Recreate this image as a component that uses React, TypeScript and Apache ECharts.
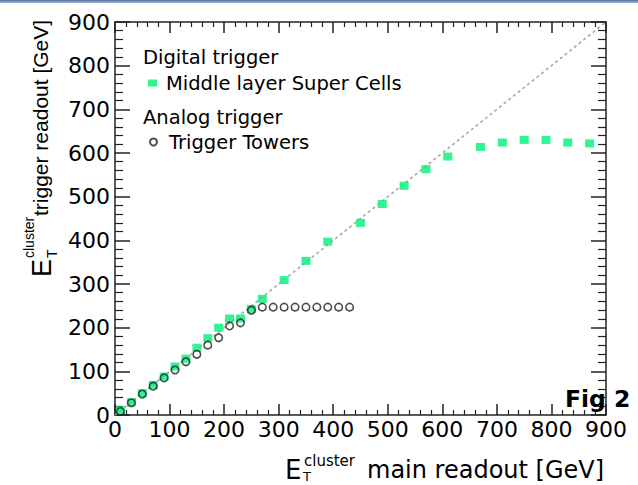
import React, { useEffect, useRef } from "react";
import * as echarts from "echarts";

// Digital trigger: Middle layer Super Cells
const superCellX = [10, 30, 50, 70, 90, 110, 130, 150, 170, 190, 210, 230, 250, 270, 310, 350, 390, 450, 490, 530, 570, 610, 670, 710, 750, 790, 830, 870];
const superCellY = [11, 29, 50, 69, 88, 111, 129, 154, 176, 200, 221, 221, 243, 266, 309, 353, 397, 440, 483, 525, 563, 592, 614, 624, 630, 630, 624, 622];

// Analog trigger: Trigger Towers
const towerX = [10, 30, 50, 70, 90, 110, 130, 150, 170, 190, 210, 230, 250, 270, 290, 310, 330, 350, 370, 390, 410, 430];
const towerY = [8, 28, 48, 66, 85, 103, 122, 139, 160, 177, 204, 211, 240, 247, 247, 247, 247, 247, 247, 247, 247, 247];

// Diagonal reference y = x
const diagX = [0, 900];

const axisTicks = [0, 100, 200, 300, 400, 500, 600, 700, 800, 900];

const SERIES_SC = "Middle layer Super Cells";
const SERIES_TT = "Trigger Towers";

export default function App() {
  const ref = useRef<HTMLDivElement>(null);

  useEffect(() => {
    if (!ref.current) return;
    const chart = echarts.init(ref.current, undefined, { renderer: "svg" });

    const axisColor = "#222";
    const lineStyle = { color: axisColor, width: 1.5 };
    const minV = axisTicks[0];
    const maxV = axisTicks[axisTicks.length - 1];
    const interval = axisTicks[1] - axisTicks[0];

    const mkX = (position: "bottom" | "top", showLabel: boolean) => ({
      type: "value",
      position,
      min: minV,
      max: maxV,
      interval,
      axisLine: { show: true, onZero: false, lineStyle },
      axisTick: { show: true, inside: true, length: 11, lineStyle },
      minorTick: { show: true, splitNumber: 5, length: 5, lineStyle: { color: axisColor, width: 1.2 } },
      splitLine: { show: false },
      axisLabel: {
        show: showLabel,
        fontFamily: "DejaVu Sans",
        fontSize: 22,
        color: "#000",
        margin: 3,
      },
    });
    const mkY = (position: "left" | "right", showLabel: boolean) => ({
      type: "value",
      position,
      min: minV,
      max: maxV,
      interval,
      axisLine: { show: true, onZero: false, lineStyle },
      axisTick: { show: true, inside: true, length: 15, lineStyle },
      minorTick: { show: true, splitNumber: 5, length: 8, lineStyle: { color: axisColor, width: 1.2 } },
      splitLine: { show: false },
      axisLabel: {
        show: showLabel,
        fontFamily: "DejaVu Sans",
        fontSize: 22,
        color: "#000",
        margin: 5,
      },
    });

    const t = (text: string, x: number, y: number, fontSize: number, family: string, weight = "normal") => ({
      type: "text",
      x,
      y,
      z: 100,
      style: {
        text,
        fontSize,
        fontFamily: family,
        fontWeight: weight,
        fill: "#000",
        textAlign: "left",
        textVerticalAlign: "middle",
      },
    });

    const option: any = {
      animation: false,
      backgroundColor: "#fff",
      grid: { left: 115, right: 32, top: 22, bottom: 70, containLabel: false },
      xAxis: [mkX("bottom", true), mkX("top", false)],
      yAxis: [mkY("left", true), mkY("right", false)],
      legend: [
        {
          data: [SERIES_SC],
          left: 148,
          top: 73,
          padding: 0,
          itemWidth: 9,
          itemHeight: 7,
          icon: "rect",
          textStyle: { fontFamily: "DejaVu Sans", fontSize: 19.5, color: "#000", padding: [0, 0, 0, 4] },
        },
        {
          data: [SERIES_TT],
          left: 149,
          top: 132,
          padding: 0,
          itemWidth: 7,
          itemHeight: 7,
          icon: "circle",
          textStyle: { fontFamily: "DejaVu Sans", fontSize: 19.5, color: "#000", padding: [0, 0, 0, 7] },
        },
      ],
      series: [
        {
          type: "line",
          name: "y = x",
          data: diagX.map((v) => [v, v]),
          symbol: "none",
          lineStyle: { color: "#a8a8a8", width: 1.6, type: [3, 3] },
          silent: true,
          z: 1,
        },
        {
          type: "scatter",
          name: SERIES_SC,
          data: superCellX.map((x, i) => [x, superCellY[i]]),
          symbol: "rect",
          symbolSize: [9, 8],
          itemStyle: { color: "#00f07a" },
          z: 2,
        },
        {
          type: "scatter",
          name: SERIES_TT,
          data: towerX.map((x, i) => [x, towerY[i]]),
          symbol: "circle",
          symbolSize: 7.5,
          itemStyle: { color: "rgba(0,0,0,0)", borderColor: "#222", borderWidth: 1.6 },
          z: 3,
        },
      ],
      graphic: [
        {
          type: "rect",
          x: 0,
          y: 0,
          shape: { width: 638, height: 3 },
          style: {
            fill: new echarts.graphic.LinearGradient(0, 0, 0, 1, [
              { offset: 0, color: "#4f6f9f" },
              { offset: 1, color: "#a9bbd6" },
            ]),
          },
        },
        t("Digital trigger", 143, 57, 19.5, "DejaVu Sans"),
        t("Analog trigger", 143, 117, 19.5, "DejaVu Sans"),
        // x-axis title
        t("E", 285, 469.5, 26, "DejaVu Sans"),
        t("T", 303, 476.5, 13, "DejaVu Sans"),
        t("cluster", 304, 461, 15, "DejaVu Sans"),
        t("main readout [GeV]", 367, 470, 24, "DejaVu Sans"),
        // y-axis title (rotated)
        {
          type: "group",
          x: 0,
          y: 277,
          rotation: Math.PI / 2,
          children: [
            t("E", 0, 41.5, 27, "Liberation Sans"),
            t("T", 19, 51.5, 14, "Liberation Sans"),
            t("cluster", 19, 29, 14, "Liberation Sans"),
            t("trigger readout [GeV]", 61, 40, 21, "Liberation Sans"),
          ],
        },
        t("Fig 2", 565, 398.9, 23.5, "DejaVu Sans", "bold"),
      ],
    };

    chart.setOption(option);
    return () => chart.dispose();
  }, []);

  return (
    <div
      ref={ref}
      style={{ position: "fixed", left: 0, top: 0, width: 638, height: 485, background: "#fff" }}
    />
  );
}
